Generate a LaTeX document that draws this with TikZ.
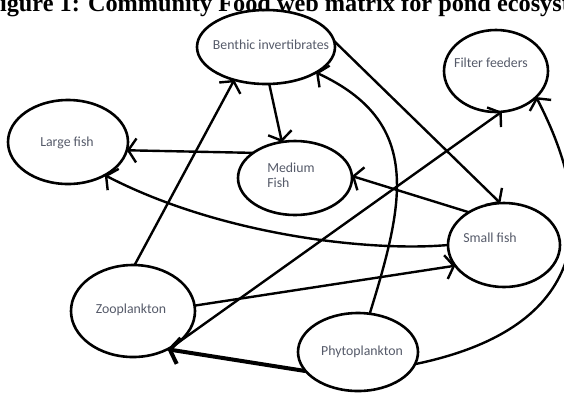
\documentclass[tikz,border=0pt]{standalone}
\usepackage{fontspec}
\setmainfont{Carlito}
\newfontfamily\titlefont{Liberation Serif}
\usetikzlibrary{shapes.geometric,arrows.meta}
\definecolor{txt}{RGB}{85,90,105}
\begin{document}
\begin{tikzpicture}[x=1pt,y=-1pt,
  oval/.style={draw, ellipse, line width=2.6pt, inner sep=0pt, outer sep=0pt},
  lbl/.style={text=txt, font=\fontsize{13.8}{15}\selectfont, inner sep=0pt},
  link/.style={line width=2.4pt, -{Straight Barb[length=8pt,width=24pt]}},
  heavy/.style={line width=4pt, -{Straight Barb[length=9pt,width=26pt]}}]
\useasboundingbox (0,0) rectangle (564,392);
\clip (0,0) rectangle (564,392);
% title (cropped at top, as in the reference)
\node[anchor=base west, inner sep=0pt, font=\titlefont\bfseries\fontsize{24.3}{28}\selectfont] (title) at (-15,11) {Figure 1: Community Food web matrix for pond ecosystem};
% ellipses
\node[oval, minimum width=138pt, minimum height=74pt] (benthic) at (266,47) {};
\node[oval, minimum width=104pt, minimum height=82pt] (filter) at (496,71) {};
\node[oval, minimum width=120pt, minimum height=84pt] (large) at (68,142) {};
\node[oval, minimum width=114pt, minimum height=74pt] (medium) at (295,178) {};
\node[oval, minimum width=112pt, minimum height=84pt] (small) at (504,245) {};
\node[oval, minimum width=124pt, minimum height=92pt] (zoo) at (133,311) {};
\node[oval, minimum width=120pt, minimum height=78pt] (phyto) at (358,352) {};
% labels
\node[lbl] (tbenthic) at (271,45) {Benthic invertibrates};
\node[lbl] (tfilter) at (491,63) {Filter feeders};
\node[lbl] (tlarge) at (67,143) {Large fish};
\node[lbl, align=left] (tmedium) at (291,175) {Medium\\Fish};
\node[lbl] (tsmall) at (490,238) {Small fish};
\node[lbl] (tzoo) at (131,310) {Zooplankton};
\node[lbl] (tphyto) at (362,352) {Phytoplankton};
% connectors
\draw[link] (zoo.88) -- (benthic.226);
\draw[link] (benthic.275) -- (medium.110);
\draw[link] (phyto.73) .. controls (405,200) and (422,122) .. (benthic.333);
\draw[link] (benthic.5) -- (small.95);
\draw[link] (medium.149) -- (large.352);
\draw[link] (small.180) .. controls (370,252) and (220,235) .. (large.318);
\draw[link] (small.137) -- (medium.2);
\draw[link] (zoo.5) -- (small.203);
\draw[link] (zoo.324) -- (filter.278);
\draw[heavy] (phyto.200) -- (zoo.312);
\draw[link] (phyto.348) .. controls (580,330) and (605,230) .. (filter.327);
\end{tikzpicture}
\end{document}
